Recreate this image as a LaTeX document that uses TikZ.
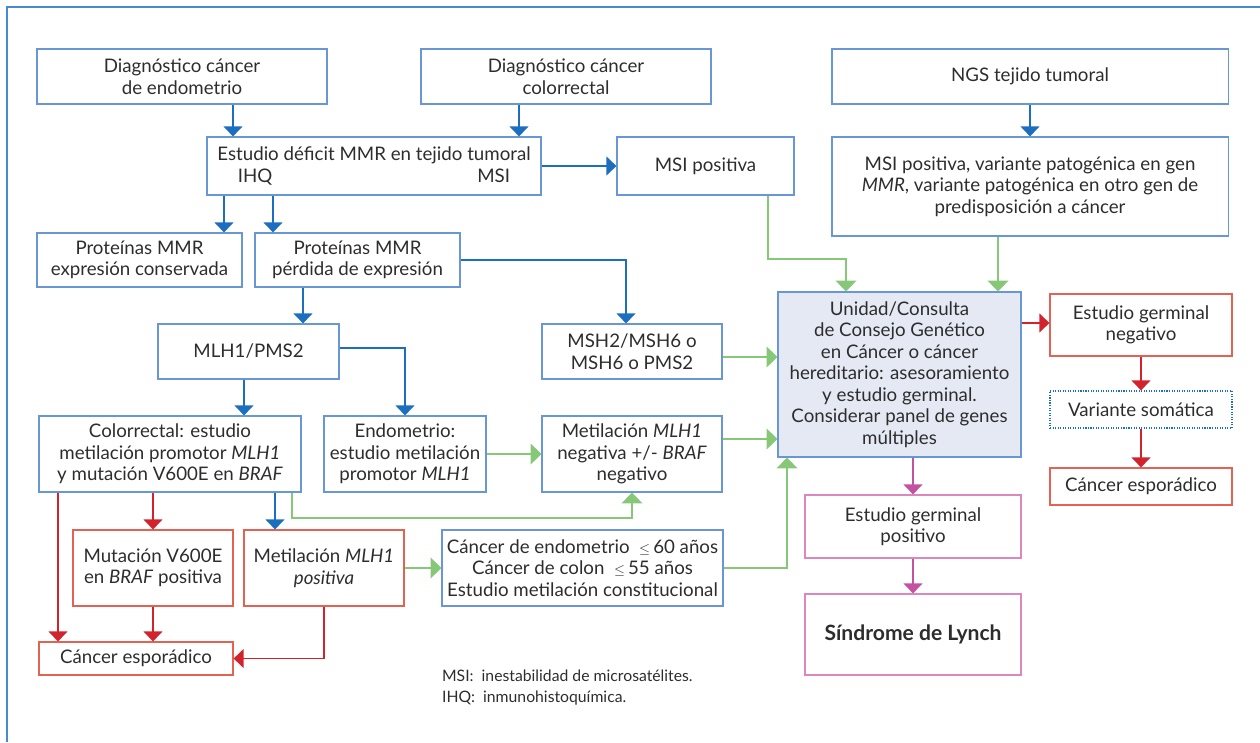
\documentclass[tikz,border=0pt]{standalone}
\usepackage{fontspec}
\setmainfont{Lato}
\usepackage{tikz}
\usetikzlibrary{arrows.meta,positioning,calc}
\usepackage{xcolor}
\definecolor{boxblue}{RGB}{105,150,212}
\definecolor{arrowblue}{RGB}{28,110,190}
\definecolor{boxred}{RGB}{228,98,82}
\definecolor{arrowred}{RGB}{210,35,45}
\definecolor{linegreen}{RGB}{135,200,120}
\definecolor{boxpink}{RGB}{222,135,190}
\definecolor{arrowpink}{RGB}{196,82,160}
\definecolor{unitfill}{RGB}{228,233,244}
\definecolor{textgrey}{RGB}{45,45,45}
\definecolor{frameblue}{RGB}{70,140,205}
\newcommand{\menorigual}{{\fontsize{10}{10}\selectfont$\leq$}}

\begin{document}
\begin{tikzpicture}[x=0.025cm, y=-0.025cm,
  every node/.style={font=\fontsize{13.3}{15.3}\selectfont, text=textgrey, align=center, inner sep=2pt},
  bluebox/.style={draw=boxblue, line width=0.8pt},
  redbox/.style={draw=boxred, line width=0.8pt},
  pinkbox/.style={draw=boxpink, line width=0.8pt},
  barrow/.style={draw=arrowblue, line width=0.9pt, -{Triangle[width=0.47cm,length=0.25cm]}},
  rarrow/.style={draw=arrowred, line width=0.9pt, -{Triangle[width=0.47cm,length=0.25cm]}},
  garrow/.style={draw=linegreen, line width=0.9pt, -{Triangle[width=0.52cm,length=0.27cm]}},
  parrow/.style={draw=arrowpink, line width=0.9pt, -{Triangle[width=0.47cm,length=0.25cm]}}]
\useasboundingbox (0,0) rectangle (1260,742);
\draw[frameblue, line width=1.4pt] (7,742) -- (7,7) -- (1260,7);

% top row
\node[bluebox, minimum width=7.25cm, minimum height=1.375cm] (diagEnd) at (182,76.5) {Diagnóstico cáncer\\de endometrio};
\node[bluebox, minimum width=7.25cm, minimum height=1.375cm] (diagCol) at (566,76.5) {Diagnóstico cáncer\\colorrectal};
\node[bluebox, minimum width=9.9cm, minimum height=1.375cm] (ngs) at (1030,76.5) {NGS tejido tumoral};

\node[bluebox, minimum width=8.35cm, minimum height=1.45cm] (estudio) at (374,166) {Estudio déficit MMR en tejido tumoral\\\makebox[6.8cm]{IHQ\hfill MSI}};
\node[bluebox, minimum width=4.425cm, minimum height=1.45cm] (msiPos) at (705.5,166) {MSI positiva};
\node[bluebox, minimum width=9.9cm, minimum height=2.475cm] (ngsRes) at (1030,186.5) {MSI positiva, variante patogénica en gen\\\textit{MMR}, variante patogénica en otro gen de\\predisposición a cáncer};

\node[bluebox, minimum width=5.125cm, minimum height=1.35cm] (protCons) at (139.5,260) {Proteínas MMR\\expresión conservada};
\node[bluebox, minimum width=5.125cm, minimum height=1.35cm] (protPerd) at (357.5,260) {Proteínas MMR\\pérdida de expresión};

\node[bluebox, minimum width=4.525cm, minimum height=1.375cm] (mlh) at (248.5,351.5) {MLH1/PMS2};
\node[bluebox, minimum width=4.5cm, minimum height=1.375cm] (msh) at (632,351.5) {MSH2/MSH6 o\\MSH6 o PMS2};

\node[bluebox, fill=unitfill, minimum width=6.075cm, minimum height=4.125cm] (unidad) at (899.5,374.5) {Unidad/Consulta\\de Consejo Genético\\en Cáncer o cáncer\\hereditario: asesoramiento\\y estudio germinal.\\Considerar panel de genes\\múltiples};

\node[redbox, minimum width=4.55cm, minimum height=1.55cm] (germNeg) at (1141,325) {Estudio germinal\\negativo};
\node[draw=arrowblue, densely dotted, line width=0.8pt, minimum width=4.55cm, minimum height=0.925cm] (variante) at (1141,409.5) {Variante somática};
\node[redbox, minimum width=4.55cm, minimum height=0.925cm] (esporR) at (1141,486.5) {Cáncer esporádico};

\node[bluebox, minimum width=6.55cm, minimum height=1.9cm] (colorr) at (170,454) {Colorrectal: estudio\\metilación promotor \textit{MLH1}\\y mutación V600E en \textit{BRAF}};
\node[bluebox, minimum width=4.05cm, minimum height=1.9cm] (endom) at (405,454) {Endometrio:\\estudio metilación\\promotor \textit{MLH1}};
\node[bluebox, minimum width=4.5cm, minimum height=1.9cm] (metNeg) at (632,454) {Metilación \textit{MLH1}\\negativa +/- \textit{BRAF}\\negativo};

\node[pinkbox, minimum width=5.4cm, minimum height=1.575cm] (germPos) at (913,526.5) {Estudio germinal\\positivo};
\node[pinkbox, minimum width=5.4cm, minimum height=2.025cm, font=\fontsize{15}{18}\selectfont] (lynch) at (913,634.5) {\textbf{Síndrome de Lynch}};

\node[redbox, minimum width=4cm, minimum height=1.9cm] (mutBraf) at (153,568) {Mutación V600E\\en \textit{BRAF} positiva};
\node[redbox, minimum width=4cm, minimum height=1.9cm] (metPos) at (324,568) {Metilación \textit{MLH1}\\\textit{positiva}};
\node[bluebox, minimum width=7.025cm, minimum height=1.9cm] (edad) at (582.5,568) {Cáncer de endometrio \ \menorigual\,60 años\\Cáncer de colon \ \menorigual\,55 años\\Estudio metilación constitucional};
\node[redbox, minimum width=4.85cm, minimum height=0.825cm] (esporL) at (136,658.5) {Cáncer esporádico};

\node[font=\fontsize{11.2}{15}\selectfont, align=left, anchor=west] (nota) at (439,687.5) {MSI:\ \ inestabilidad de microsatélites.\\IHQ:\ \ inmunohistoquímica.};

% blue connectors
\draw[barrow] (233,0 |- diagEnd.south) -- (233,0 |- estudio.north);
\draw[barrow] (519,0 |- diagCol.south) -- (519,0 |- estudio.north);
\draw[barrow] (ngs.south) -- (ngs.south |- ngsRes.north);
\draw[barrow] (estudio.east) -- (msiPos.west);
\draw[barrow] (224,0 |- estudio.south) -- (224,0 |- protCons.north);
\draw[barrow] (273,0 |- estudio.south) -- (273,0 |- protPerd.north);
\draw[barrow] (303,0 |- protPerd.south) -- (303,0 |- mlh.north);
\draw[barrow] (protPerd.east) -| (626,0 |- msh.north);
\draw[barrow] (0,348 -| mlh.east) -| (endom.north);
\draw[barrow] (244,0 |- mlh.south) -- (244,0 |- colorr.north);
\draw[barrow] (275,0 |- colorr.south) -- (275,0 |- metPos.north);

% red connectors
\draw[rarrow] (58,0 |- colorr.south) -- (58,0 |- esporL.north);
\draw[rarrow] (153,0 |- colorr.south) -- (mutBraf.north);
\draw[rarrow] (mutBraf.south) -- (mutBraf.south |- esporL.north);
\draw[rarrow] (metPos.south) |- (esporL.east);
\draw[rarrow] (0,323 -| unidad.east) -- (0,323 -| germNeg.west);
\draw[rarrow] (germNeg.south) -- (variante.north);
\draw[rarrow] (variante.south) -- (esporR.north);

% green connectors
\draw[garrow] (768,0 |- msiPos.south) -- (768,259) -| (846,0 |- unidad.north);
\draw[garrow] (998,0 |- ngsRes.south) -- (998,0 |- unidad.north);
\draw[garrow] (0,357 -| msh.east) -- (0,357 -| unidad.west);
\draw[garrow] (0,439 -| metNeg.east) -- (0,439 -| unidad.west);
\draw[garrow] (endom.east) -- (metNeg.west);
\draw[garrow] (292,0 |- colorr.south) -- (292,518) -| (metNeg.south);
\draw[garrow] (metPos.east) -- (edad.west);
\draw[garrow] (edad.east) -| (787,0 |- unidad.south);

% pink connectors
\draw[parrow] (germPos.north |- unidad.south) -- (germPos.north);
\draw[parrow] (germPos.south) -- (lynch.north);
\end{tikzpicture}
\end{document}
